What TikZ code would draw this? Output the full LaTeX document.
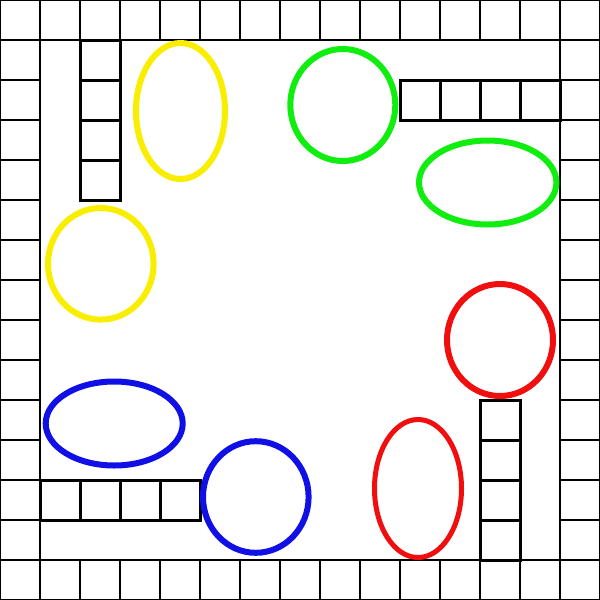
\documentclass[tikz,border=0pt]{standalone}
\definecolor{ludoyellow}{RGB}{250,238,0}
\definecolor{ludogreen}{RGB}{16,238,16}
\definecolor{ludored}{RGB}{240,14,14}
\definecolor{ludoblue}{RGB}{16,16,230}
\tikzset{
  cellline/.style={line width=2pt, black},
  stackline/.style={line width=3pt, black, line cap=rect},
  token/.style={line width=6pt},
}
\begin{document}
\begin{tikzpicture}[x=1pt, y=-1pt]
  \useasboundingbox (0,0) rectangle (600,600);
  \fill[white] (0,0) rectangle (600,600);
  \clip (0,0) rectangle (600,600);
  % outer track: top and bottom rows
  \foreach \y in {0,560} {
    \draw[cellline] (0,\y) rectangle (600,\y+40);
    \foreach \x in {40,80,...,560} \draw[cellline] (\x,\y) -- (\x,\y+40);
  }
  % left and right columns
  \foreach \x in {0,560} {
    \draw[cellline] (\x,0) rectangle (\x+40,600);
    \foreach \y in {40,80,...,560} \draw[cellline] (\x,\y) -- (\x+40,\y);
  }
  % home stacks
  \draw[stackline] (80,40) rectangle (120,200);
  \foreach \y in {80,120,160} \draw[stackline] (80,\y) -- (120,\y);
  \draw[stackline] (400,80) rectangle (560,120);
  \foreach \x in {440,480,520} \draw[stackline] (\x,80) -- (\x,120);
  \draw[stackline] (40,480) rectangle (200,520);
  \foreach \x in {80,120,160} \draw[stackline] (\x,480) -- (\x,520);
  \draw[stackline] (480,400) rectangle (520,560);
  \foreach \y in {440,480,520} \draw[stackline] (480,\y) -- (520,\y);
  % tokens
  \draw[token, ludoyellow] (180.5,111) ellipse [x radius=44.5, y radius=68];
  \draw[token, ludoyellow] (100.8,263.8) ellipse [x radius=52.8, y radius=55.8];
  \draw[token, ludogreen] (342.8,105) ellipse [x radius=52.5, y radius=56];
  \draw[token, ludogreen] (487.7,182.5) ellipse [x radius=68.7, y radius=42];
  \draw[token, ludored] (500,340) ellipse [x radius=53, y radius=56];
  \draw[token, ludored, line width=5pt] (418,488.5) ellipse [x radius=43.5, y radius=69];
  \draw[token, ludoblue] (114.2,423.5) ellipse [x radius=68.5, y radius=42];
  \draw[token, ludoblue] (255.8,497) ellipse [x radius=52.8, y radius=55.8];
\end{tikzpicture}
\end{document}
